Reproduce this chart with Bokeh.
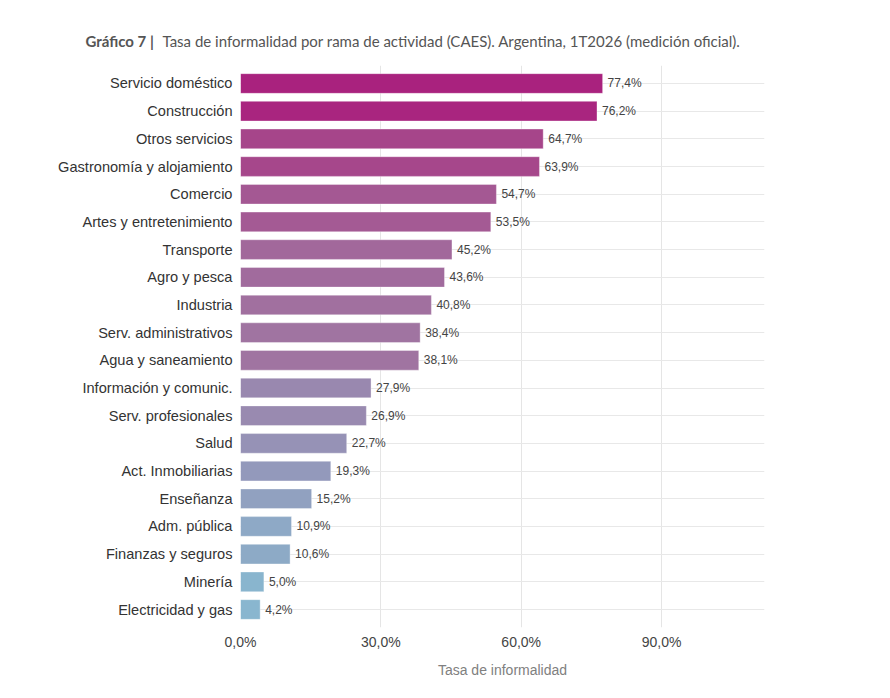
import numpy as np
from bokeh.plotting import figure
from bokeh.layouts import column
from bokeh.models import FactorRange, Range1d, ColumnDataSource, LinearColorMapper, FixedTicker, CustomJSTickFormatter
from bokeh.core.properties import value
from bokeh.transform import transform
from bokeh.embed import file_html
from bokeh.resources import INLINE

categories = ["Servicio doméstico", "Construcción", "Otros servicios", "Gastronomía y alojamiento",
              "Comercio", "Artes y entretenimiento", "Transporte", "Agro y pesca", "Industria",
              "Serv. administrativos", "Agua y saneamiento", "Información y comunic.",
              "Serv. profesionales", "Salud", "Act. Inmobiliarias", "Enseñanza", "Adm. pública",
              "Finanzas y seguros", "Minería", "Electricidad y gas"]
values = [77.4, 76.2, 64.7, 63.9, 54.7, 53.5, 45.2, 43.6, 40.8, 38.4, 38.1, 27.9, 26.9, 22.7,
          19.3, 15.2, 10.9, 10.6, 5.0, 4.2]
x_ticks = [0, 30, 60, 90]
title_bold = "Gráfico 7 |"
title_rest = "Tasa de informalidad por rama de actividad (CAES). Argentina, 1T2026 (medición oficial)."
x_title = "Tasa de informalidad"

W = 874
TOP = 65
FL, FW, FH = 240, 524, 562

# colour scale (style)
anchor_pos = [0.0, 0.45, 0.8, 1.0]
anchor_rgb = [(137, 182, 207), (160, 118, 162), (166, 74, 140), (169, 34, 126)]
palette = []
for t in np.linspace(0, 1, 256):
    r = np.interp(t, anchor_pos, [c[0] for c in anchor_rgb])
    g = np.interp(t, anchor_pos, [c[1] for c in anchor_rgb])
    b = np.interp(t, anchor_pos, [c[2] for c in anchor_rgb])
    palette.append("#%02x%02x%02x" % (int(round(r)), int(round(g)), int(round(b))))
mapper = LinearColorMapper(palette=palette, low=min(values), high=max(values))

# ---- title strip ----
t = figure(width=W, height=TOP, x_range=Range1d(0, W), y_range=Range1d(0, TOP),
           min_border=0, output_backend="svg", toolbar_location=None)
t.frame_align = False
t.axis.visible = False
t.grid.visible = False
t.outline_line_color = None
t.text(x=[85], y=[TOP - 40], text=[title_bold], text_font=value("Lato"), text_font_style="bold",
       text_font_size="15px", text_color="#555555", text_baseline="middle")
t.text(x=[162], y=[TOP - 40], text=[title_rest], text_font=value("Lato"),
       text_font_size="15px", text_color="#555555", text_baseline="middle")

# ---- main chart ----
labels = [("%.1f" % v).replace(".", ",") + "%" for v in values]
src = ColumnDataSource(dict(cat=categories, val=values, lab=labels))

p = figure(y_range=FactorRange(factors=categories[::-1], range_padding=0.15, range_padding_units="absolute"),
           x_range=Range1d(0, 112),
           frame_width=FW, frame_height=FH,
           min_border_left=FL, min_border_right=W - FL - FW, min_border_top=0, min_border_bottom=55,
           output_backend="svg", toolbar_location=None)
p.frame_align = False
p.outline_line_color = None

p.hbar(y="cat", right="val", left=0, height=0.71, source=src,
       fill_color=transform("val", mapper), line_color="white", line_alpha=0.35, line_width=1)
p.text(x="val", y="cat", text="lab", source=src, x_offset=5, text_baseline="middle",
       text_font_size="12px", text_color="#444444", text_font=value("Liberation Sans"))

p.xaxis.ticker = FixedTicker(ticks=x_ticks)
p.xaxis.formatter = CustomJSTickFormatter(code="return tick.toFixed(1).replace('.', ',') + '%';")
p.xaxis.axis_line_color = None
p.xaxis.major_tick_line_color = None
p.xaxis.major_tick_out = 0
p.xaxis.major_tick_in = 0
p.xaxis.minor_tick_line_color = None
p.xaxis.major_label_text_font = "Liberation Sans"
p.xaxis.major_label_text_font_size = "14px"
p.xaxis.major_label_text_color = "#444444"
p.xaxis.major_label_standoff = 6
p.xaxis.axis_label = x_title
p.xaxis.axis_label_text_font = "Liberation Sans"
p.xaxis.axis_label_text_font_size = "14px"
p.xaxis.axis_label_text_font_style = "normal"
p.xaxis.axis_label_text_color = "#808080"
p.xaxis.axis_label_standoff = 9

p.yaxis.axis_line_color = None
p.yaxis.major_tick_line_color = None
p.yaxis.major_tick_out = 0
p.yaxis.major_tick_in = 0
p.yaxis.minor_tick_line_color = None
p.yaxis.major_label_text_font = "Liberation Sans"
p.yaxis.major_label_text_font_size = "14.6px"
p.yaxis.major_label_text_color = "#333333"
p.yaxis.major_label_standoff = 8

p.xgrid.grid_line_color = "#e5e5e5"
p.ygrid.grid_line_color = "#e8e8e8"
p.ygrid.grid_line_width = 1

layout = column(t, p, spacing=0)
open("out.html", "w").write(file_html(layout, INLINE))
